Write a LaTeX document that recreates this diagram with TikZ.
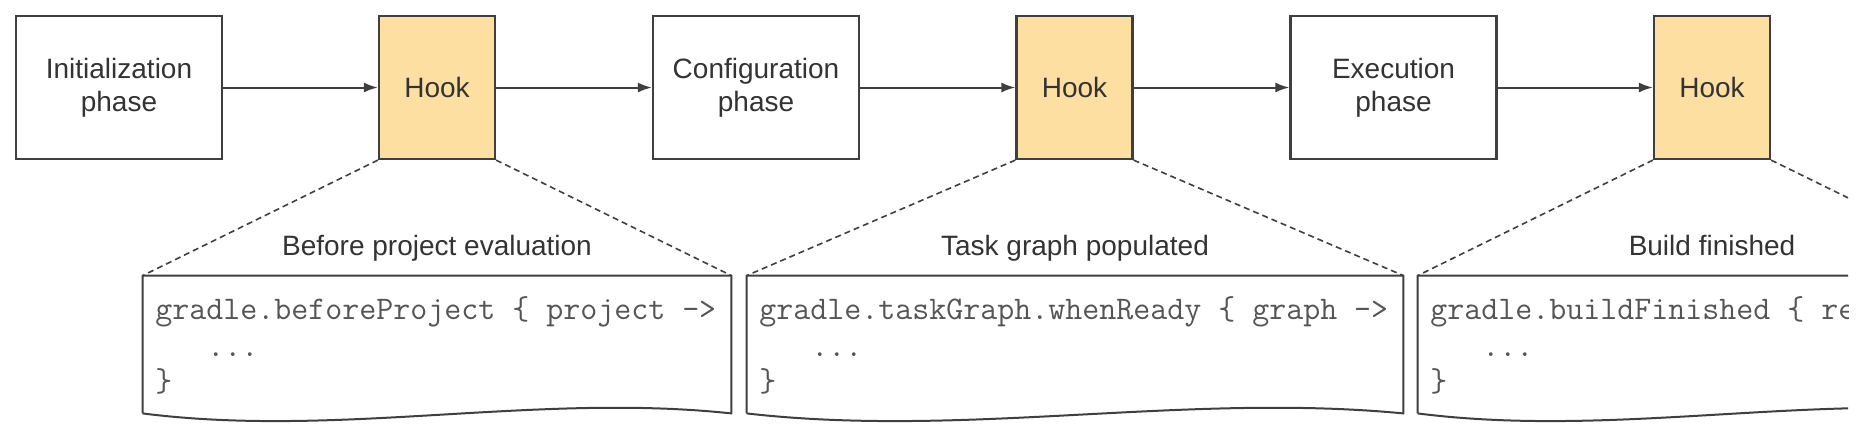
\documentclass[tikz,border=0pt]{standalone}
\usepackage{fontspec}
\setmainfont{Liberation Sans}
\usetikzlibrary{arrows.meta,calc}
\definecolor{hookfill}{HTML}{FDDFA2}
\definecolor{edgecol}{HTML}{3F3F3F}
\definecolor{txt}{HTML}{333333}
\definecolor{codetxt}{HTML}{555555}
\begin{document}
\begin{tikzpicture}[x=0.5pt,y=-0.5pt,
  phasebox/.style={draw=edgecol, line width=1.1pt, minimum width=103pt, minimum height=71.5pt,
    align=center, text=txt, font=\fontsize{14}{16.5}\selectfont, inner sep=0pt},
  hookbox/.style={phasebox, fill=hookfill, minimum width=58pt},
  flow/.style={draw=edgecol, line width=1pt, -{Latex[length=7pt,width=5pt]}},
  zoomline/.style={draw=edgecol, line width=0.8pt, dash pattern=on 3pt off 2pt},
  codeframe/.style={draw=edgecol, line width=1pt, line join=round},
  caption/.style={text=txt, font=\fontsize{14}{16}\selectfont, anchor=base, inner sep=0pt},
  codeline/.style={text=codetxt, font=\ttfamily\fontsize{16.5}{18}\selectfont, anchor=base west, inner sep=0pt},
  codearea/.style={minimum height=68.5pt, inner sep=0pt},
]
\useasboundingbox (0,0) rectangle (1871,447);
\begin{scope}
\clip (0,0) rectangle (1848,447);

% phases and hooks
\node[phasebox] (init)   at (119,87.5)    {Initialization\\phase};
\node[hookbox]  (hook1)  at (437,87.5)    {Hook};
\node[phasebox] (config) at (756,87.5)    {Configuration\\phase};
\node[hookbox]  (hook2)  at (1074.5,87.5) {Hook};
\node[phasebox] (exec)   at (1393.5,87.5) {Execution\\phase};
\node[hookbox]  (hook3)  at (1712,87.5)   {Hook};

\draw[flow] (init) -- (hook1);
\draw[flow] (hook1) -- (config);
\draw[flow] (config) -- (hook2);
\draw[flow] (hook2) -- (exec);
\draw[flow] (exec) -- (hook3);

% code areas
\node[codearea, minimum width=294pt] (code1) at (437,344.5) {};
\node[codearea, minimum width=328pt] (code2) at (1075,344.5) {};
\node[codearea, minimum width=294pt] (code3) at (1712,344.5) {};

\foreach \c in {code1,code2,code3}{
  \draw[codeframe] (\c.south west) -- (\c.north west) -- (\c.north east) -- (\c.south east)
    .. controls ($(\c.south west)!0.667!(\c.south east)+(0,-21)$)
       and ($(\c.south west)!0.333!(\c.south east)+(0,25)$) .. (\c.south west);
}

\draw[zoomline] (hook1.south west) -- (code1.north west);
\draw[zoomline] (hook1.south east) -- (code1.north east);
\draw[zoomline] (hook2.south west) -- (code2.north west);
\draw[zoomline] (hook2.south east) -- (code2.north east);
\draw[zoomline] (hook3.south west) -- (code3.north west);
\draw[zoomline] (hook3.south east) -- (code3.north east);

% captions
\node[caption] (cap1) at (437,255)  {Before project evaluation};
\node[caption] (cap2) at (1075,255) {Task graph populated};
\node[caption] (cap3) at (1712,255) {Build finished};

% code
\node[codeline] (c1a) at (155,319) {gradle.beforeProject \{ project ->};
\node[codeline] (c1b) at (207,356) {...};
\node[codeline] (c1c) at (155,391) {\}};
\node[codeline] (c2a) at (759,319) {gradle.taskGraph.whenReady \{ graph ->};
\node[codeline] (c2b) at (811,356) {...};
\node[codeline] (c2c) at (759,391) {\}};
\node[codeline] (c3a) at (1430,319) {gradle.buildFinished \{ re};
\node[codeline] (c3b) at (1482,356) {...};
\node[codeline] (c3c) at (1430,391) {\}};
\end{scope}
\end{tikzpicture}
\end{document}
